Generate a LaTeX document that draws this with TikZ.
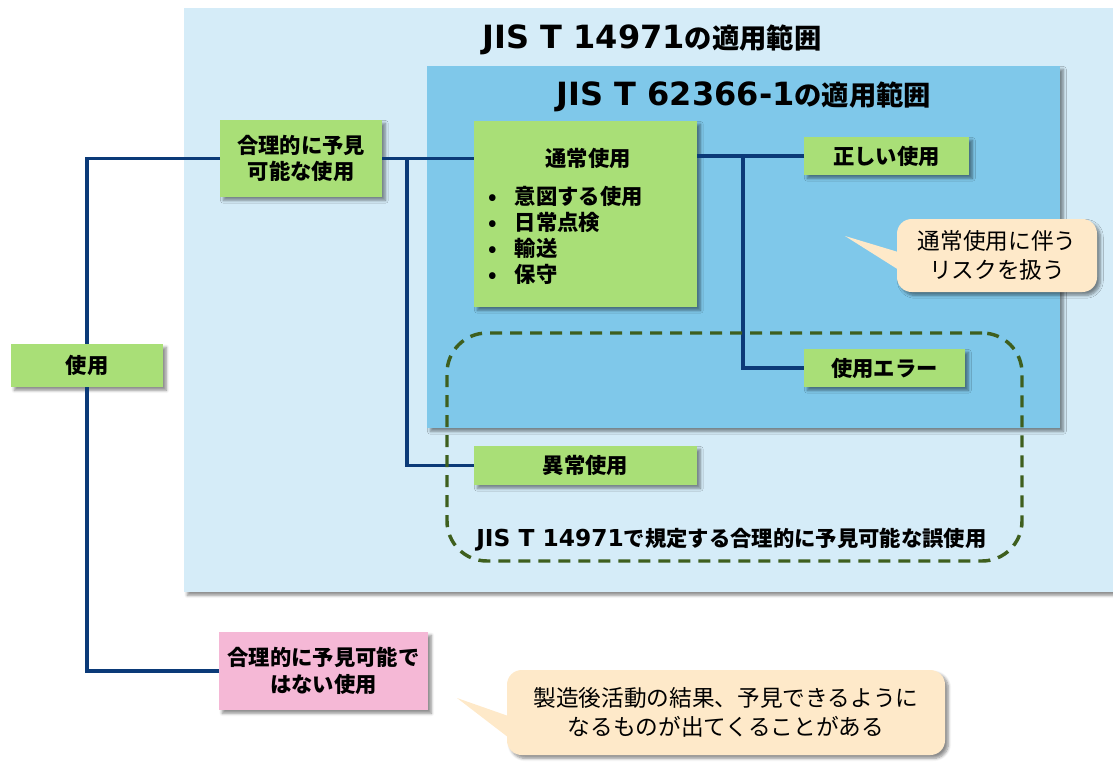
\documentclass[tikz,border=0pt]{standalone}
\usepackage{fontspec}
\setmainfont{Noto Sans CJK JP}
\newfontfamily\lat{DejaVu Sans}
\usetikzlibrary{shadows,shadows.blur,calc}
\definecolor{outerblue}{HTML}{D5ECF8}
\definecolor{innerblue}{HTML}{7FC8EA}
\definecolor{boxgreen}{HTML}{A9DF77}
\definecolor{boxpink}{HTML}{F5B8D6}
\definecolor{callfill}{HTML}{FEE9C9}
\definecolor{navy}{HTML}{0B3A78}
\definecolor{dashgreen}{HTML}{3E5F1E}
\newcommand{\latt}[2]{{\lat\fontsize{#1}{#1}\selectfont #2}}
\tikzset{
  sz/.style 2 args={minimum width=#1*0.75pt, minimum height=#2*0.75pt},
  shad/.style={blur shadow={shadow xshift=2.5pt, shadow yshift=-2.5pt, shadow blur steps=6, shadow opacity=45}},
  region/.style={fill=#1, inner sep=0pt, outer sep=0pt, shad},
  gbox/.style={fill=boxgreen, inner sep=0pt, outer sep=0pt, align=center, shad,
    font=\bfseries\fontsize{16}{20}\selectfont},
  pbox/.style={gbox, fill=boxpink},
  callbox/.style={fill=callfill, rounded corners=11pt, inner sep=0pt, align=center, shad,
    font=\fontsize{17}{22}\selectfont},
  conn/.style={draw=navy, line width=2.3pt},
  dashbox/.style={draw=dashgreen, line width=2.6pt, dash pattern=on 9pt off 6pt, rounded corners=30pt, inner sep=0pt},
  ttl/.style={font=\bfseries\fontsize{20.5}{24}\selectfont, inner sep=0pt},
  lbl/.style={font=\bfseries\fontsize{16}{20}\selectfont, inner sep=0pt}
}
\begin{document}
\begin{tikzpicture}[x=0.75pt,y=-0.75pt]
\useasboundingbox (0,0) rectangle (1113,761);
% regions
\node[region=outerblue, sz={941}{584}] (r14971) at (654.5,300) {};
\node[ttl] (t14971) at (652,40) {\latt{24}{JIS T 14971}の適用範囲};
\node[region=innerblue, sz={633}{362}] (r62366) at (743.5,247) {};
\node[ttl] (t62366) at (744,97) {\latt{24}{JIS T 62366-1}の適用範囲};
% boxes
\node[gbox, sz={152}{43}] (use) at (87,365.5) {使用};
\node[gbox, sz={162}{77}] (foresee) at (301,158.5) {合理的に予見\\可能な使用};
\node[gbox, sz={223}{186}] (normal) at (585.5,214) {};
\node[lbl] (normalhead) at (588,158) {通常使用};
\node[lbl, anchor=north west, align=left, font=\bfseries\fontsize{16}{19.5}\selectfont] (normallist) at (488,186)
  {\makebox[20pt][l]{•}意図する使用\\\makebox[20pt][l]{•}日常点検\\\makebox[20pt][l]{•}輸送\\\makebox[20pt][l]{•}保守};
\node[gbox, sz={165}{38}] (correct) at (886.5,156) {正しい使用};
\node[gbox, sz={161}{38}] (error) at (884.5,368) {使用エラー};
\node[gbox, sz={223}{39}] (abnormal) at (585.5,465.5) {異常使用};
\node[pbox, sz={209}{78}] (notforesee) at (323.5,671) {合理的に予見可能で\\はない使用};
% connectors
\draw[conn] (foresee.west) -| (use.north);
\draw[conn] (notforesee.west) -| (use.south);
\draw[conn] (foresee.east) -- (foresee.east -| normal.west);
\draw[conn] ($(foresee.east)+(25,0)$) |- (abnormal.west);
\draw[conn] (correct.west) -- (correct.west -| normal.east);
\draw[conn] ($(correct.west)+(-61,0)$) |- (error.west);
% misuse dashed area
\node[dashbox, sz={575}{228}] (misuse) at (734.5,447) {};
\node[lbl, anchor=west] (misuselbl) at (476,540) {\latt{17.5}{JIS T 14971}で規定する合理的に予見可能な誤使用};
% callouts
\node[callbox, sz={200}{73}] (call1) at (997,255.5) {通常使用に伴う\\リスクを扱う};
\coordinate (tip1) at (845,236);
\fill[callfill] (tip1) -- ($(call1.west)+(3,-3)$) -- ($(call1.west)+(3,15)$) -- cycle;
\node[callbox, sz={438}{85}] (call2) at (726,712.5) {製造後活動の結果、予見できるように\\なるものが出てくることがある};
\coordinate (tip2) at (457,698);
\fill[callfill] (tip2) -- ($(call2.west)+(3,4)$) -- ($(call2.west)+(3,26)$) -- cycle;
\end{tikzpicture}
\end{document}
